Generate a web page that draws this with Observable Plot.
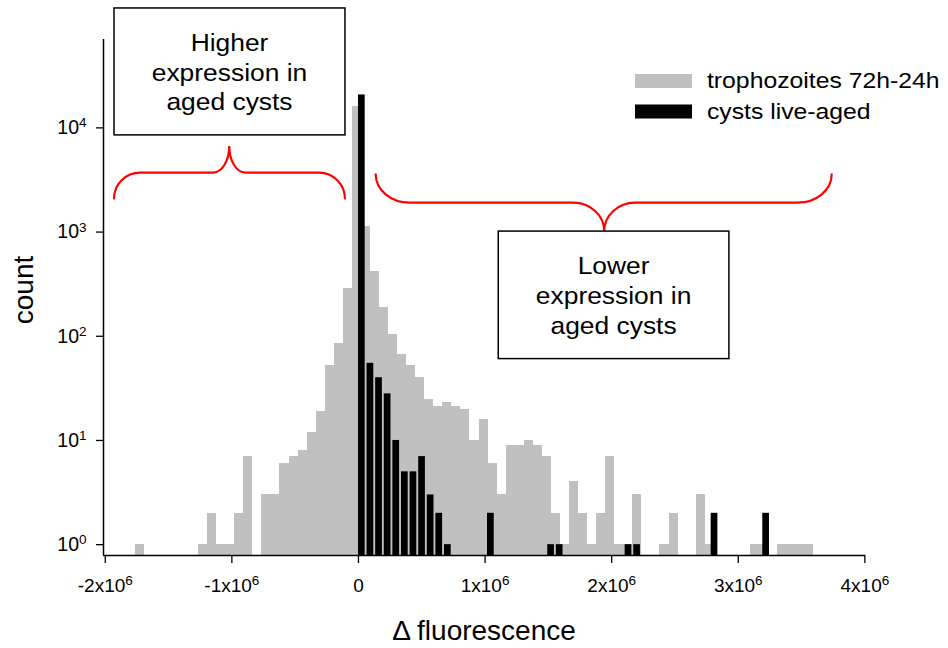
<!DOCTYPE html>
<html><head><meta charset="utf-8">
<script src="https://cdn.jsdelivr.net/npm/d3@7"></script>
<script src="https://cdn.jsdelivr.net/npm/@observablehq/plot@0.6"></script>
<style>
html,body{margin:0;padding:0;background:#fff}
#chart{width:948px;height:648px;overflow:hidden}
</style>
</head><body><div id="chart"></div>
<script>
// ---------------- data ----------------
const seriesNames = ["trophozoites 72h-24h", "cysts live-aged"];

// trophozoites 72h-24h histogram (grey): first bin edge and bin width in Δ fluorescence units
const grayBinStart = -1763500;
const grayBinWidth = 71470;
const grayCounts = [
  1, 0, 0, 0, 0, 0, 0, 1, 2, 1, 1, 2, 7, 0, 3, 3, 6, 7, 8, 12, 19, 52, 85, 290,
  16000, 1130, 420, 187, 104, 67, 52, 40, 25, 21, 23, 21, 20, 10, 16, 6, 3, 9, 9, 10, 9, 7,
  2, 1, 4, 2, 1, 2, 7, 1, 1, 3, 0, 0, 1, 2, 0, 0, 3, 1, 0, 0, 0, 0, 1, 1, 0, 1, 1, 1, 1
];

// cysts live-aged histogram (black)
const blackBinStart = 0;
const blackBinWidth = 67950;
const blackCounts = [
  20700, 55, 40, 28, 10, 5, 5, 7, 3, 2, 1, 0, 0, 0, 0, 2, 0, 0, 0, 0, 0, 0, 1, 1,
  0, 0, 0, 0, 0, 0, 0, 1, 1, 0, 0, 0, 0, 0, 0, 0, 0, 2, 0, 0, 0, 0, 0, 2
];

const xTicks = [-2e6, -1e6, 0, 1e6, 2e6, 3e6, 4e6];
const xTickLabels = ["-2x10^6", "-1x10^6", "0", "1x10^6", "2x10^6", "3x10^6", "4x10^6"];
const yTicks = [1, 10, 100, 1000, 10000];
const yTickLabels = ["10^0", "10^1", "10^2", "10^3", "10^4"];

const xTitle = "Δ fluorescence";
const yTitle = "count";

const annotationTexts = [
  ["Higher", "expression in", "aged cysts"],
  ["Lower", "expression in", "aged cysts"]
];

// ---------------- layout ----------------
const FONT = "'Liberation Sans', Arial, Helvetica, sans-serif";
const xDomain = [-2014000, 4005000];
const yDomain = [0.787, 70500];
const yMin = yDomain[0];

const toBins = (start, width, counts) =>
  counts.map((c, i) => ({x1: start + i * width, x2: start + (i + 1) * width, count: c}))
        .filter(d => d.count > 0);

const grayBins = toBins(grayBinStart, grayBinWidth, grayCounts);
const blackBins = toBins(blackBinStart, blackBinWidth, blackCounts);

const plot = Plot.plot({
  width: 948,
  height: 648,
  marginLeft: 103,
  marginRight: 83,
  marginTop: 39,
  marginBottom: 93,
  style: {fontFamily: FONT, background: "white", color: "black", overflow: "visible"},
  x: {domain: xDomain},
  y: {type: "log", domain: yDomain},
  marks: [
    Plot.rect(grayBins, {x1: "x1", x2: "x2", y1: () => yMin, y2: "count", fill: "#c0c0c0", shapeRendering: "crispEdges"}),
    Plot.rect(blackBins, {x1: "x1", x2: "x2", y1: () => yMin, y2: "count", fill: "#000", insetRight: 1.9}),
    Plot.ruleY([yMin], {stroke: "#000", strokeWidth: 1.5}),
    Plot.ruleX([xDomain[0]], {stroke: "#000", strokeWidth: 1.5}),
    Plot.axisX({ticks: xTicks, tickFormat: d => xTickLabels[xTicks.indexOf(d)], tickSize: 8,
      tickPadding: 15, fontSize: 19, label: null, strokeWidth: 1.3}),
    Plot.axisY({ticks: yTicks, tickFormat: d => yTickLabels[yTicks.indexOf(d)], tickSize: 7,
      tickPadding: 10, fontSize: 19.5, label: null, strokeWidth: 1.3})
  ]
});
document.getElementById("chart").appendChild(plot);

const svg = d3.select(plot);
const xs = plot.scale("x"), ys = plot.scale("y");

// superscripts in tick labels
svg.selectAll("text").each(function () {
  const t = this.textContent;
  if (t.includes("^")) {
    const [base, exp] = t.split("^");
    const sel = d3.select(this);
    sel.text(base);
    sel.append("tspan").attr("dy", -6.8).attr("font-size", 13.5).text(exp);
  }
});

// axis titles
svg.append("text")
  .attr("x", (xs.apply(xDomain[0]) + xs.apply(xDomain[1])) / 2)
  .attr("y", 640)
  .attr("text-anchor", "middle")
  .attr("font-size", 28)
  .attr("font-family", FONT)
  .text(xTitle);
svg.append("text")
  .attr("transform", `translate(33,290) rotate(-90)`)
  .attr("text-anchor", "middle")
  .attr("font-size", 28)
  .attr("font-family", FONT)
  .text(yTitle);

// braces (in data coordinates)
const braces = [
  {x0: -1927000, x1: -103000, xc: -1017000, yEnd: 2072, yMid: 3685, yTip: 6637, r1: 26, r2: 16},
  {x0: 140000, x1: 3742000, xc: 1945000, yEnd: 3548, yMid: 1896, yTip: 1011, r1: 34, r2: 31}
];
function bracePath(b) {
  const X0 = xs.apply(b.x0), X1 = xs.apply(b.x1), XC = xs.apply(b.xc);
  const YE = ys.apply(b.yEnd), YM = ys.apply(b.yMid), YT = ys.apply(b.yTip);
  const up = YT < YM;
  const e = Math.abs(YE - YM), t = Math.abs(YT - YM);
  const s1 = up ? 1 : 0, s2 = up ? 0 : 1;
  return `M${X0},${YE} A${b.r1},${e} 0 0 ${s1} ${X0 + b.r1},${YM} L${XC - b.r2},${YM} ` +
         `A${b.r2},${t} 0 0 ${s2} ${XC},${YT} A${b.r2},${t} 0 0 ${s2} ${XC + b.r2},${YM} ` +
         `L${X1 - b.r1},${YM} A${b.r1},${e} 0 0 ${s1} ${X1},${YE}`;
}
braces.forEach(b => {
  svg.append("path").attr("d", bracePath(b)).attr("fill", "none")
    .attr("stroke", "#ff0000").attr("stroke-width", 2.2).attr("stroke-linecap", "round");
});

// annotation boxes (in data coordinates)
const boxes = [
  {x1: -1927000, x2: -102700, yTop: 140000, yBottom: 8470},
  {x1: 1108000, x2: 2930000, yTop: 1011, yBottom: 60.4}
];
const STRETCH = 1.1;
boxes.forEach((b, i) => {
  const X1 = xs.apply(b.x1), X2 = xs.apply(b.x2), YT = ys.apply(b.yTop), YB = ys.apply(b.yBottom);
  svg.append("rect").attr("x", X1).attr("y", YT).attr("width", X2 - X1).attr("height", YB - YT)
    .attr("fill", "white").attr("stroke", "#000").attr("stroke-width", 1.5);
  const cx = (X1 + X2) / 2;
  annotationTexts[i].forEach((line, j) => {
    svg.append("g").attr("transform", `translate(${cx},${YT + 43.3 + j * 29.6}) scale(${STRETCH},1)`)
      .append("text").attr("text-anchor", "middle").attr("font-size", 24)
      .attr("font-family", FONT).text(line);
  });
});

// legend
const legendColors = ["#c0c0c0", "#000"];
seriesNames.forEach((name, i) => {
  const y0 = 74 + i * 30.5;
  svg.append("rect").attr("x", 635).attr("y", y0).attr("width", 57).attr("height", 14)
    .attr("fill", legendColors[i]);
  svg.append("g").attr("transform", `translate(707,${y0 + 14.3}) scale(${STRETCH},1)`)
    .append("text").attr("text-anchor", "start").attr("font-size", 22.5)
    .attr("font-family", FONT).text(name);
});
</script>
</body></html>
